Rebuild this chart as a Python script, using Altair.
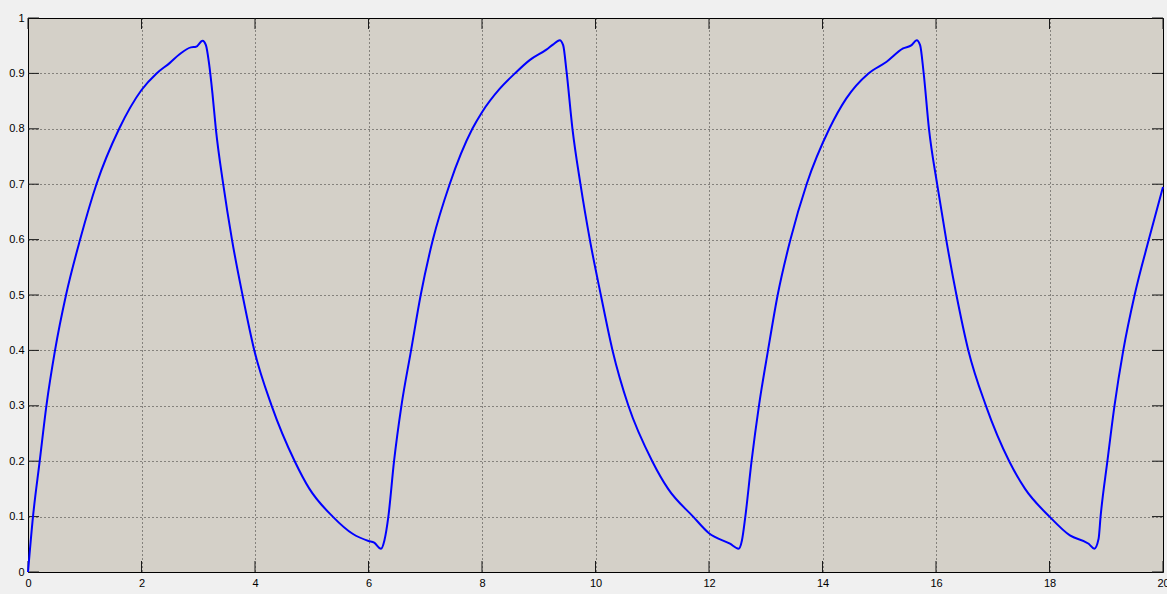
import altair as alt
import pandas as pd

# Response of the first-order system to the square-wave input (time, output)
t_vals = [
    0.0, 0.088, 0.206, 0.324, 0.476, 0.67, 0.918, 1.206, 1.606, 2.0,
    2.265, 2.5, 2.665, 2.87, 2.96, 3.076, 3.135, 3.19, 3.25, 3.31,
    3.44, 3.594, 3.78, 3.988, 4.294, 4.7, 4.96, 5.37, 5.72, 6.0,
    6.1, 6.22, 6.28, 6.35, 6.45, 6.58, 6.75, 6.92, 7.135, 7.43,
    7.83, 8.0, 8.31, 8.58, 8.84, 9.135, 9.25, 9.37, 9.43, 9.49,
    9.594, 9.735, 9.9, 10.094, 10.3, 10.58, 11.0, 11.28, 11.72, 12.0,
    12.37, 12.52, 12.58, 12.64, 12.75, 12.88, 13.04, 13.21, 13.435, 13.72,
    14.12, 14.42, 14.81, 15.13, 15.42, 15.57, 15.66, 15.72, 15.78, 15.876,
    16.02, 16.18, 16.36, 16.57, 16.88, 17.29, 17.57, 18.0, 18.36, 18.69,
    18.79, 18.865, 18.9, 19.02, 19.145, 19.3, 19.5, 19.75, 20.0,
]
y_vals = [
    0.0, 0.1, 0.2, 0.3, 0.4, 0.5, 0.6, 0.7, 0.8, 0.87,
    0.9, 0.919, 0.934, 0.947, 0.948, 0.959, 0.951, 0.918, 0.864, 0.8,
    0.7, 0.6, 0.5, 0.4, 0.3, 0.2, 0.15, 0.1, 0.069, 0.056,
    0.053, 0.042, 0.057, 0.1, 0.2, 0.3, 0.4, 0.5, 0.6, 0.7,
    0.8, 0.83, 0.872, 0.9, 0.924, 0.943, 0.952, 0.96, 0.951, 0.903,
    0.8, 0.7, 0.6, 0.5, 0.4, 0.3, 0.2, 0.15, 0.1, 0.07,
    0.051, 0.042, 0.057, 0.1, 0.2, 0.3, 0.4, 0.5, 0.6, 0.7,
    0.8, 0.855, 0.9, 0.921, 0.945, 0.951, 0.96, 0.951, 0.903, 0.8,
    0.7, 0.6, 0.5, 0.4, 0.3, 0.2, 0.15, 0.1, 0.066, 0.051,
    0.042, 0.06, 0.1, 0.2, 0.3, 0.4, 0.5, 0.6, 0.695,
]

x_ticks = [0, 2, 4, 6, 8, 10, 12, 14, 16, 18, 20]
y_ticks = [0, 0.1, 0.2, 0.3, 0.4, 0.5, 0.6, 0.7, 0.8, 0.9, 1]

W, H = 1135, 554
TICK = 11

signal = pd.DataFrame({"t": t_vals, "y": y_vals})
xt = pd.DataFrame({"t": x_ticks})
yt = pd.DataFrame({"y": y_ticks})

x_scale = alt.Scale(domain=[0, 20], nice=False, zero=False)
y_scale = alt.Scale(domain=[0, 1], nice=False, zero=False)

grid_style = dict(
    grid=True, gridColor="#000000", gridDash=[1, 3], gridOpacity=0.75,
    gridWidth=1, ticks=False, domain=False, labelFont="Liberation Sans",
    labelFontSize=11, labelColor="#000000", title=None,
)

line = alt.Chart(signal).mark_line(
    color="#0000ff", strokeWidth=2, interpolate="monotone"
).encode(
    x=alt.X("t:Q", scale=x_scale,
            axis=alt.Axis(values=x_ticks, format="~g", labelPadding=5,
                          labelFlush=False, **grid_style)),
    y=alt.Y("y:Q", scale=y_scale,
            axis=alt.Axis(values=y_ticks, format="~g", labelPadding=4,
                          labelFlush=False, **grid_style)),
)

# Inward ticks on all four sides of the box
tick_color = "#1a1a1a"
bottom_ticks = alt.Chart(xt).mark_rule(color=tick_color, strokeWidth=1).encode(
    x=alt.X("t:Q", scale=x_scale), y=alt.value(H - TICK), y2=alt.value(H)
)
top_ticks = alt.Chart(xt).mark_rule(color=tick_color, strokeWidth=1).encode(
    x=alt.X("t:Q", scale=x_scale), y=alt.value(0), y2=alt.value(TICK)
)
left_ticks = alt.Chart(yt).mark_rule(color=tick_color, strokeWidth=1).encode(
    y=alt.Y("y:Q", scale=y_scale), x=alt.value(0), x2=alt.value(TICK)
)
right_ticks = alt.Chart(yt).mark_rule(color=tick_color, strokeWidth=1).encode(
    y=alt.Y("y:Q", scale=y_scale), x=alt.value(W - TICK), x2=alt.value(W)
)

chart = alt.layer(
    bottom_ticks, top_ticks, left_ticks, right_ticks, line
).properties(
    width=W, height=H,
    padding={"left": 28, "top": 18, "right": 4, "bottom": 22},
    autosize=alt.AutoSizeParams(type="none"),
    background="#f0f0f0",
).configure_view(
    fill="#d4d0c8", stroke="#000000", strokeWidth=1
)

chart.save("out.html", embed_options={"renderer": "svg", "actions": False})
